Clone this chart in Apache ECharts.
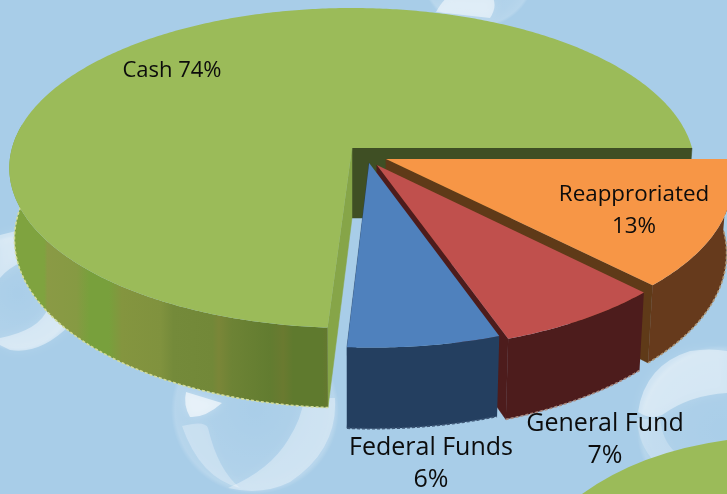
<!DOCTYPE html>
<html>
<head>
<meta charset="utf-8">
<script src="https://cdn.jsdelivr.net/npm/echarts@6/dist/echarts.min.js"></script>
<style>html,body{margin:0;padding:0;background:#a8cde8}#c{width:727px;height:494px}</style>
</head>
<body>
<div id="c"></div>
<script>
const categories = ['Cash', 'Federal Funds', 'General Fund', 'Reapproriated'];
const percents = [74, 6.3, 7, 12.7];
const labels = ['Cash 74%', 'Federal Funds\n6%', 'General Fund\n7%', 'Reapproriated\n13%'];

// ---- styling and layout (separate from data) ----
const topColors = ['#9bbb59', '#4f81bd', '#c0504d', '#f79646'];
const wallColors = ['#6f8a36', '#243f60', '#4d1c1c', '#663a1c'];
const edgeColors = ['#3f4f24', '#243f60', '#4d1c1c', '#5f3a18'];
const fringeColors = ['#d3dc9c', '#3d5675', '#a98a80', '#b09878'];
const explode = [[0, 0], [0.05, 0.094], [0.072, 0.107], [0.099, 0.07]];
const paint = [1, 30, 20, 10];
const labelAt = [[172, 71], [431, 464], [605, 440], [634, 211]];
const labelSize = [22, 25, 25, 22.4];
const total = percents.reduce((a, b) => a + b, 0);
const starts = percents.map((_, i) => percents.slice(0, i).reduce((a, b) => a + b, 0));

// pie plane -> screen: a perspective projection of the round pie
const cx = 352, cy = 148, A = 340, B = 157.5, K = 0.125, DEPTH = 70;
function proj(u, v, h) {
  const w = 1 - K * v;
  return [cx + A * u / w * (1 - 0.015 * h), cy + B * v / w + DEPTH * h / w];
}
function angle(p) { return -p / total * 2 * Math.PI; }

function renderItem(params, api) {
  const i = params.dataIndex;
  const a0 = angle(starts[i]);
  const a1 = angle(starts[i] + api.value(0));
  const d = explode[i];
  const arc = (h, frontOnly) => {
    const pts = [], n = Math.max(8, Math.round(Math.abs(a1 - a0) * 90));
    for (let s = 0; s <= n; s++) {
      const t = a0 + (a1 - a0) * s / n;
      const c = Math.cos(t), si = Math.sin(t);
      if (!frontOnly || si > 0 || (c < 0 && si > -0.15)) pts.push(proj(d[0] + c, d[1] + si, h));
    }
    return pts;
  };
  const z = paint[i];
  const children = [];
  const radial = (t, fill, zz) => {
    const e = [d[0] + Math.cos(t), d[1] + Math.sin(t)];
    children.push({
      type: 'polygon', z2: zz, silent: true,
      shape: { points: [proj(d[0], d[1], 0), proj(e[0], e[1], 0), proj(e[0], e[1], 1), proj(d[0], d[1], 1)] },
      style: { fill: fill, stroke: fill, lineWidth: 0.5 }
    });
  };
  radial(a0, edgeColors[i], z);
  if (i === 0) radial(a1, '#86a548', z + 1);

  let wallFill = wallColors[i];
  if (i === 0) {
    wallFill = new echarts.graphic.LinearGradient(12, 0, 335, 0, [
      { offset: 0, color: '#7fa33f' }, { offset: 0.1, color: '#7fa33f' },
      { offset: 0.11, color: '#8a9a45' }, { offset: 0.2, color: '#869a43' },
      { offset: 0.24, color: '#78a03c' }, { offset: 0.3, color: '#78a03c' },
      { offset: 0.34, color: '#84953f' }, { offset: 0.46, color: '#80923e' },
      { offset: 0.5, color: '#748a3a' }, { offset: 0.62, color: '#728838' },
      { offset: 0.64, color: '#7a8638' }, { offset: 0.68, color: '#6d8335' },
      { offset: 0.8, color: '#627c30' }, { offset: 0.84, color: '#6a7a30' },
      { offset: 0.87, color: '#5f7a2e' }, { offset: 0.96, color: '#5f7a2e' },
      { offset: 1, color: '#6b7530' }
    ], true);
  }
  const lo = arc(1, true), hi = arc(0, true);
  children.push({
    type: 'polygon', z2: z + 2, silent: true,
    shape: { points: hi.concat(lo.slice().reverse()) },
    style: { fill: wallFill }
  });
  children.push({
    type: 'polyline', z2: z + 3, silent: true,
    shape: { points: lo },
    style: { fill: 'none', stroke: fringeColors[i], lineWidth: 1.6, lineDash: [3, 2] }
  });
  children.push({
    type: 'polygon', z2: z + 4, silent: true,
    shape: { points: [proj(d[0], d[1], 0)].concat(arc(0, false)) },
    style: { fill: topColors[i] }
  });
  children.push({
    type: 'text', z2: 60, silent: true,
    style: {
      text: labels[i], x: labelAt[i][0], y: labelAt[i][1],
      align: 'center', verticalAlign: 'middle',
      fill: '#0c0c0c', font: labelSize[i] + 'px "Open Sans", sans-serif',
      lineHeight: i === 0 ? 24 : 32
    }
  });
  return { type: 'group', children: children };
}

function renderBackdrop() {
  const white = a => 'rgba(255,255,255,' + a + ')';
  const soft = (x, y, r, a0, a1) => ({
    type: 'circle', silent: true, shape: { cx: x, cy: y, r: r },
    style: { fill: new echarts.graphic.RadialGradient(0.5, 0.5, 0.5, [
      { offset: 0, color: white(a0) }, { offset: 0.8, color: white(a1) },
      { offset: 0.95, color: white(a1 + 0.06) }, { offset: 1, color: white(0) }]) }
  });
  const path = (d, a, blur) => ({
    type: 'path', silent: true, shape: { pathData: d },
    style: { fill: white(a), shadowBlur: blur || 8, shadowColor: white(a * 0.7) }
  });
  return { type: 'group', children: [
    // bottom centre bubble
    soft(255, 410, 84, 0.02, 0.1),
    path('M335 398 Q338 450 290 482 Q262 496 228 488 Q270 470 288 440 Q302 418 304 398 Z', 0.33),
    path('M182 426 Q205 420 208 428 Q218 470 240 488 Q200 478 182 426 Z', 0.28),
    path('M186 392 L222 403 Q205 418 190 417 Q183 405 186 392 Z', 0.6),
    // left bubble
    soft(18, 293, 58, 0.02, 0.1),
    path('M0 338 Q40 330 48 308 L70 325 Q40 355 10 350 L0 345 Z', 0.42),
    path('M0 235 L20 230 L22 262 Q8 268 0 278 Z', 0.42),
    // right bubble
    soft(722, 430, 85, 0.02, 0.08),
    path('M638 412 Q645 365 690 351 Q710 348 727 351 L727 393 Q690 395 662 415 Q650 420 638 412 Z', 0.42),
    path('M637 418 Q650 420 660 418 Q662 440 675 452 L655 462 Q638 445 637 418 Z', 0.22),
    // top bubble
    soft(478, -30, 58, 0.03, 0.12),
    path('M436 12 Q445 -4 452 -4 L492 -4 Q498 6 490 18 Z', 0.5),
    // green corner shape
    { type: 'path', silent: true,
      shape: { pathData: 'M582 494 Q640 452 727 440 L727 494 Z' },
      style: { fill: '#9bbb59' } }
  ] };
}

const chart = echarts.init(document.getElementById('c'), null, { renderer: 'canvas' });
chart.setOption({
  animation: false,
  backgroundColor: '#a8cde8',
  series: [{
    type: 'custom', z: 1, silent: true, coordinateSystem: 'none',
    renderItem: renderBackdrop, data: [[0]]
  }, {
    type: 'custom',
    z: 5,
    silent: true,
    coordinateSystem: 'none',
    renderItem: renderItem,
    data: percents.map((v, i) => ({ name: categories[i], value: [v] })),
    encode: { value: 0 }
  }]
});
</script>
</body>
</html>
